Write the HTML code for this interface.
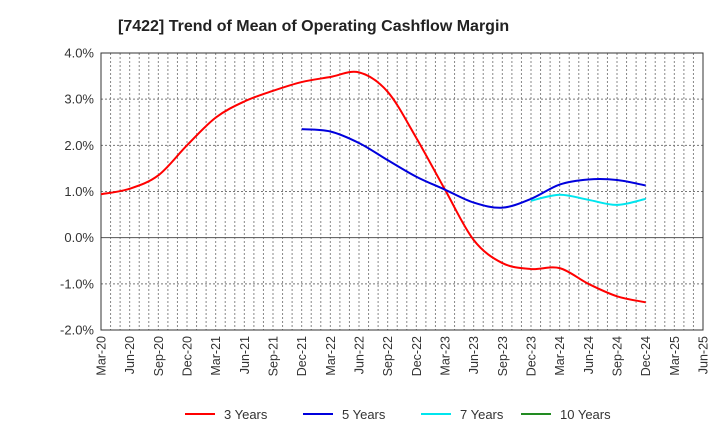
<!DOCTYPE html>
<html><head><meta charset="utf-8"><style>
body{margin:0;background:#fff;font-family:"Liberation Sans",sans-serif;}
svg text{font-family:"Liberation Sans",sans-serif;}
</style></head><body>
<svg id="c" width="720" height="440" xmlns="http://www.w3.org/2000/svg">
<text x="118" y="31" font-size="16" font-weight="bold" fill="#222">[7422]  Trend of Mean of Operating Cashflow Margin</text>
<g id="grid"></g><g id="axes"></g><g id="series"></g><g id="legend"></g>
</svg>
<script>
const xLabels=["Mar-20","Jun-20","Sep-20","Dec-20","Mar-21","Jun-21","Sep-21","Dec-21","Mar-22","Jun-22","Sep-22","Dec-22","Mar-23","Jun-23","Sep-23","Dec-23","Mar-24","Jun-24","Sep-24","Dec-24","Mar-25","Jun-25"];
const yTicks=[4,3,2,1,0,-1,-2];
const s3=[0.94,1.06,1.35,2.0,2.6,2.95,3.18,3.37,3.48,3.58,3.16,2.16,1.04,-0.05,-0.55,-0.68,-0.66,-1.0,-1.27,-1.4];
const s3Start=0;
const s5=[2.35,2.3,2.05,1.68,1.32,1.04,0.76,0.65,0.84,1.15,1.26,1.25,1.13];
const s5Start=7;
const s7=[0.8,0.93,0.82,0.71,0.84];
const s7Start=15;
const s10=[];
const s10Start=0;
const L=101,R=703,T=53,B=330;
const X=i=>L+i*(R-L)/(xLabels.length-1);
const Y=v=>T+(4-v)*(B-T)/6;
const NS="http://www.w3.org/2000/svg";
function mk(tag,attrs,parent){const e=document.createElementNS(NS,tag);for(const k in attrs)e.setAttribute(k,attrs[k]);parent.appendChild(e);return e;}
const grid=document.getElementById('grid'),axes=document.getElementById('axes'),ser=document.getElementById('series'),leg=document.getElementById('legend');
for(let m=1;m<(xLabels.length-1)*3;m++){const x=L+m*(R-L)/((xLabels.length-1)*3);
const g=mk('line',{x1:x,x2:x,y1:T,y2:B,stroke:'#888','stroke-width':1,'stroke-dasharray':'2,2'},grid);

}
yTicks.forEach(v=>{const y=Y(v);
const g=mk('line',{x1:L,x2:R,y1:y,y2:y,stroke:v===0?'#555':'#777','stroke-width':1,'stroke-dasharray':v===0?'':'2,2'},grid);


const t=mk('text',{x:L-7,y:y+4.5,'text-anchor':'end','font-size':13,fill:'#333'},axes);t.textContent=v.toFixed(1)+'%';

});
const fr=mk('rect',{x:L,y:T,width:R-L,height:B-T,fill:'none',stroke:'#333','stroke-width':1},axes);


xLabels.forEach((l,i)=>{const x=X(i)+4.5,y=B+6;
const t=mk('text',{x:x,y:y,'text-anchor':'end','font-size':12.5,fill:'#333',transform:`rotate(-90 ${x} ${y})`},axes);t.textContent=l;

});
function path(vals,start){const p=vals.map((v,i)=>[X(start+i),Y(v)]);if(p.length<2)return '';let d=`M${p[0][0]},${p[0][1]}`;
for(let i=0;i<p.length-1;i++){const p0=p[i-1]||p[i],p1=p[i],p2=p[i+1],p3=p[i+2]||p2;
d+=` C${p1[0]+(p2[0]-p0[0])/6},${p1[1]+(p2[1]-p0[1])/6} ${p2[0]-(p3[0]-p1[0])/6},${p2[1]-(p3[1]-p1[1])/6} ${p2[0]},${p2[1]}`;}return d;}
[[s3,s3Start,'#ff0000','series-3-years'],[s5,s5Start,'#0000dd','series-5-years'],[s7,s7Start,'#00e5ee','series-7-years'],[s10,s10Start,'#228b22','series-10-years']].forEach(([v,s,c,n])=>{if(v.length<2)return;
const e=mk('path',{d:path(v,s),fill:'none',stroke:c,'stroke-width':2},ser);

});
[['3 Years','#ff0000',185],['5 Years','#0000dd',303],['7 Years','#00e5ee',421],['10 Years','#228b22',521]].forEach(([t,c,x])=>{
const l=mk('line',{x1:x,x2:x+30,y1:414,y2:414,stroke:c,'stroke-width':2},leg);


const tx=mk('text',{x:x+39,y:419,'font-size':13,fill:'#333'},leg);tx.textContent=t;

});
</script>
</body></html>
